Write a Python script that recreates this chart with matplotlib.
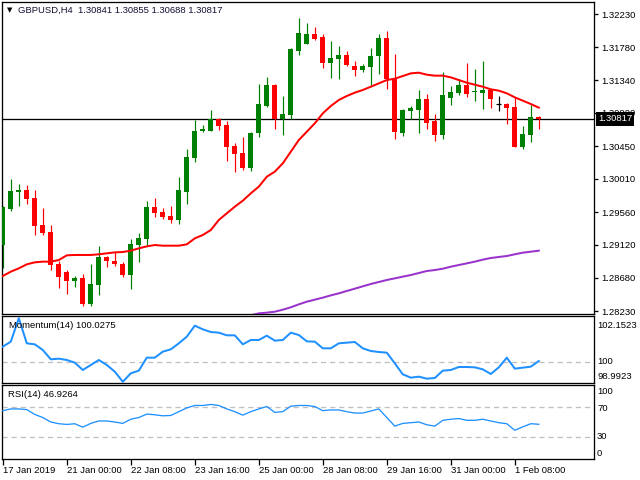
import matplotlib
matplotlib.use("Agg")
import matplotlib.pyplot as plt
import numpy as np

plt.rcParams['font.family'] = ['Liberation Sans', 'DejaVu Sans']

# ---------------- data ----------------
title_text = "GBPUSD,H4  1.30841 1.30855 1.30688 1.30817"

opens = [1.29119, 1.29600, 1.29833, 1.29860, 1.29752, 1.29389, 1.29294, 1.28863, 1.28756, 1.28639,
         1.28675, 1.28325, 1.28581, 1.28958, 1.28904, 1.28863, 1.28715, 1.29119, 1.29200, 1.29631,
         1.29564, 1.29510, 1.29456, 1.29837, 1.30295, 1.30654, 1.30659, 1.30812, 1.30731, 1.30452,
         1.30358, 1.30161, 1.30628, 1.30996, 1.31274, 1.30816, 1.30870, 1.31732, 1.31831, 1.31961,
         1.31920, 1.31575, 1.31624, 1.31678, 1.31530, 1.31480, 1.31521, 1.31664, 1.31907, 1.31359,
         1.30632, 1.30928, 1.30942, 1.31085, 1.30789, 1.30605, 1.31103, 1.31171, 1.31274, 1.31175,
         1.31171, 1.31211, 1.31014, 1.31018, 1.30978, 1.30443, 1.30605, 1.30841]
highs = [1.29644, 1.30008, 1.29941, 1.29923, 1.29855, 1.29618, 1.29389, 1.28899, 1.28782, 1.28706,
         1.28729, 1.28863, 1.29106, 1.28967, 1.29025, 1.28890, 1.29200, 1.29281, 1.29712, 1.29748,
         1.29618, 1.29644, 1.30035, 1.30412, 1.30803, 1.30735, 1.30937, 1.30825, 1.30785, 1.30488,
         1.30574, 1.30641, 1.31292, 1.31382, 1.31287, 1.31126, 1.31772, 1.32176, 1.32109, 1.32055,
         1.31961, 1.31866, 1.31799, 1.31732, 1.31597, 1.31557, 1.31772, 1.31961, 1.32001, 1.31691,
         1.30951, 1.30991, 1.31207, 1.31153, 1.30883, 1.31449, 1.31260, 1.31359, 1.31570, 1.31489,
         1.31597, 1.31225, 1.31126, 1.31032, 1.31112, 1.30722, 1.31005, 1.30855]
lows = [1.28814, 1.29582, 1.29649, 1.29667, 1.29254, 1.29254, 1.28782, 1.28545, 1.28464, 1.28558,
        1.28298, 1.28298, 1.28446, 1.28823, 1.28836, 1.28688, 1.28531, 1.28890, 1.29119, 1.29501,
        1.29469, 1.29420, 1.29406, 1.29676, 1.30241, 1.30641, 1.30659, 1.30668, 1.30255, 1.30107,
        1.30134, 1.30120, 1.30578, 1.30982, 1.30686, 1.30605, 1.30816, 1.31678, 1.31831, 1.31880,
        1.31507, 1.31368, 1.31355, 1.31530, 1.31400, 1.31453, 1.31274, 1.31422, 1.31220, 1.30551,
        1.30592, 1.30816, 1.30632, 1.30686, 1.30524, 1.30551, 1.31009, 1.31144, 1.31117, 1.31063,
        1.30955, 1.30969, 1.30928, 1.30753, 1.30443, 1.30417, 1.30511, 1.30688]
closes = [1.29635, 1.29846, 1.29860, 1.29743, 1.29380, 1.29285, 1.28850, 1.28693, 1.28639, 1.28679,
          1.28325, 1.28594, 1.28958, 1.28904, 1.28863, 1.28715, 1.29133, 1.29214, 1.29631, 1.29555,
          1.29496, 1.29456, 1.29860, 1.30304, 1.30654, 1.30681, 1.30816, 1.30726, 1.30443, 1.30349,
          1.30161, 1.30628, 1.31018, 1.31274, 1.30816, 1.30883, 1.31759, 1.31974, 1.31961, 1.31893,
          1.31575, 1.31638, 1.31678, 1.31543, 1.31480, 1.31530, 1.31664, 1.31907, 1.31355, 1.30645,
          1.30937, 1.30964, 1.31085, 1.30767, 1.30605, 1.31139, 1.31180, 1.31274, 1.31157, 1.31184,
          1.31211, 1.31090, 1.31014, 1.30969, 1.30443, 1.30614, 1.30843, 1.30817]

ma_fast = [1.28702, 1.28760, 1.28805, 1.28859, 1.28886, 1.28895, 1.28895, 1.28917, 1.28980, 1.28985,
           1.28985, 1.28985, 1.28994, 1.29007, 1.29020, 1.29025, 1.29043, 1.29074, 1.29101, 1.29119,
           1.29110, 1.29110, 1.29110, 1.29128, 1.29209, 1.29254, 1.29321, 1.29456, 1.29546, 1.29635,
           1.29716, 1.29815, 1.29905, 1.30039, 1.30107, 1.30219, 1.30376, 1.30533, 1.30645, 1.30758,
           1.30892, 1.30991, 1.31072, 1.31126, 1.31171, 1.31207, 1.31251, 1.31296, 1.31341, 1.31359,
           1.31395, 1.31431, 1.31440, 1.31413, 1.31400, 1.31400, 1.31377, 1.31341, 1.31305, 1.31278,
           1.31251, 1.31216, 1.31198, 1.31162, 1.31108, 1.31063, 1.31018, 1.30969]

ma_slow_first_bar = 31
ma_slow = [1.28172, 1.28199, 1.28208, 1.28221, 1.28248, 1.28280, 1.28320, 1.28356, 1.28383, 1.28410,
           1.28441, 1.28468, 1.28500, 1.28531, 1.28563, 1.28594, 1.28621, 1.28648, 1.28670, 1.28693,
           1.28715, 1.28742, 1.28769, 1.28782, 1.28800, 1.28827, 1.28850, 1.28872, 1.28895, 1.28922,
           1.28944, 1.28958, 1.28971, 1.28994, 1.29016, 1.29029, 1.29043]

momentum = [100.706, 100.942, 102.050, 100.863, 100.816, 100.549, 100.109, 100.140, 100.077, 99.952,
            99.606, 99.842, 100.077, 99.842, 99.527, 99.050, 99.449, 99.574, 100.187, 100.187,
            100.470, 100.580, 100.863, 101.178, 101.697, 101.524, 101.398, 101.366, 101.241, 101.241,
            100.816, 101.021, 101.021, 101.225, 100.989, 101.021, 101.366, 101.256, 100.958, 100.942,
            100.628, 100.628, 100.863, 100.895, 100.926, 100.628, 100.502, 100.455, 100.423, 99.920,
            99.401, 99.244, 99.291, 99.197, 99.228, 99.574, 99.606, 99.747, 99.747, 99.731,
            99.637, 99.417, 99.731, 100.187, 99.669, 99.716, 99.763, 100.0275]

rsi = [65.35, 67.67, 67.67, 66.74, 60.23, 56.05, 50.00, 47.67, 46.74, 47.67,
       43.02, 48.14, 51.40, 51.40, 50.00, 48.14, 53.72, 56.05, 60.70, 59.76,
       58.37, 58.83, 63.95, 69.07, 72.32, 72.32, 73.72, 72.32, 67.67, 63.95,
       59.30, 63.95, 67.67, 70.93, 63.02, 63.95, 71.39, 72.32, 72.32, 70.93,
       65.35, 66.28, 66.28, 63.95, 62.09, 62.09, 64.88, 67.67, 56.05, 44.42,
       48.14, 49.07, 50.00, 46.28, 44.42, 52.32, 53.72, 54.65, 52.32, 52.32,
       53.72, 51.40, 49.07, 47.67, 38.84, 43.49, 47.67, 46.9264]

momentum_label = "Momentum(14) 100.0275"
rsi_label = "RSI(14) 46.9264"

price_tick_labels = ["1.32230", "1.31780", "1.31340", "1.30900", "1.30450",
                     "1.30010", "1.29560", "1.29120", "1.28680", "1.28230"]
price_range = (1.28190, 1.32392)
last_price = 1.30817

momentum_range = (98.9923, 102.1523)
momentum_scale_labels = ["102.1523", "100", "98.9923"]
rsi_scale_labels = ["100", "70", "30", "0"]

time_labels = ["17 Jan 2019", "21 Jan 00:00", "22 Jan 08:00", "23 Jan 16:00", "25 Jan 00:00",
               "28 Jan 08:00", "29 Jan 16:00", "31 Jan 00:00", "1 Feb 08:00"]
bars_per_time_label = 8

# ---------------- figure ----------------
W, H = 640, 480
fig = plt.figure(figsize=(6.4, 4.8), dpi=100)
fig.patch.set_facecolor('white')


def rect(x0, y0, x1, y1):
    return [x0 / W, 1 - y1 / H, (x1 - x0) / W, (y1 - y0) / H]


ax = fig.add_axes(rect(2, 2, 594, 314))
axm = fig.add_axes(rect(2, 316, 594, 383))
axr = fig.add_axes(rect(2, 385, 594, 459))

PX = 0.72  # one pixel in points
FS = 6.8
GREEN = '#008000'
RED = '#FF0000'
BLUE = '#1E90FF'
PURPLE = '#9932CC'
GRID = '#C0C0C0'

n = len(opens)
x = np.arange(n)
o = np.array(opens)
h = np.array(highs)
l = np.array(lows)
c = np.array(closes)

for a in (ax, axm, axr):
    a.set_xlim(-0.1, 73.9)
    a.set_facecolor('white')
    for s in a.spines.values():
        s.set_linewidth(1.0 * PX * 1.3)
        s.set_color('black')
    a.set_xticks([])
    a.tick_params(axis='x', which='both', length=0)

# ---------- main panel ----------
ax.set_ylim(*price_range)
ax.axhline(last_price, color='black', lw=PX * 1.3, zorder=1)

up = c > o
down = c < o
doji = c == o
wick_colors = np.where(up, GREEN, np.where(down, RED, 'black'))
ax.vlines(x, l, h, colors=wick_colors, lw=PX * 1.2, zorder=2)
px_price = (price_range[1] - price_range[0]) / 312.0
body_h = np.maximum(np.abs(c - o), px_price)
body_b = np.minimum(o, c)
mask = ~doji
ax.bar(x[mask], body_h[mask], bottom=body_b[mask], width=0.62,
       color=[GREEN if u else RED for u in up[mask]], linewidth=0, zorder=3)
ax.hlines(c[doji], x[doji] - 0.31, x[doji] + 0.31, colors='black', lw=PX * 1.2, zorder=3)

ax.plot(x, ma_fast, color=RED, lw=2 * PX, zorder=4)
xs = np.arange(ma_slow_first_bar, ma_slow_first_bar + len(ma_slow))
ax.plot(xs, ma_slow, color=PURPLE, lw=2 * PX, zorder=4)

ax.yaxis.tick_right()
ax.set_yticks([float(t) for t in price_tick_labels])
ax.set_yticklabels(price_tick_labels)
ax.tick_params(axis='y', direction='out', length=3 * PX * 1.39, width=PX * 1.3,
               pad=2.2, labelsize=FS, colors='black')

ax.annotate(f"{last_price:.5f}", xy=(1.0, last_price), xycoords=('axes fraction', 'data'),
            xytext=(3.0, 0), textcoords='offset points', ha='left', va='center',
            fontsize=FS, color='white', zorder=10, annotation_clip=False,
            bbox=dict(boxstyle='square,pad=0.22', fc='black', ec='none'))

fig.text(7 / W, 1 - 10.5 / H, "\u25BC", fontsize=5, family='DejaVu Sans',
         ha='left', va='center', color='black')
fig.text(18 / W, 1 - 10.5 / H, title_text, fontsize=FS, ha='left', va='center',
         color='#101030')

# ---------- momentum ----------
axm.set_ylim(*momentum_range)
axm.axhline(100, color=GRID, lw=PX * 1.3, ls=(0, (4, 3)), zorder=1)
axm.plot(x, momentum, color=BLUE, lw=2 * PX, zorder=3)
axm.set_yticks([])
axm.text(7 / 592, 1 - 10 / 67, momentum_label, transform=axm.transAxes,
         fontsize=FS, ha='left', va='center', color='black')
mom_offsets = [-7.2, 0.0, 4.5]
for lab, dy in zip(momentum_scale_labels, mom_offsets):
    axm.annotate(lab, xy=(1.0, float(lab)), xycoords=('axes fraction', 'data'),
                 xytext=(2.2, dy), textcoords='offset points', ha='left', va='center',
                 fontsize=FS, color='black', annotation_clip=False)

# ---------- RSI ----------
axr.set_ylim(0, 100)
for lvl in (70, 30):
    axr.axhline(lvl, color=GRID, lw=PX * 1.3, ls=(0, (4, 3)), zorder=1)
axr.plot(x, rsi, color=BLUE, lw=PX * 1.3, zorder=3)
axr.set_yticks([])
axr.text(6 / 592, 1 - 9.5 / 74, rsi_label, transform=axr.transAxes,
         fontsize=FS, ha='left', va='center', color='black')
rsi_offsets = [-5.0, -1.0, 0.0, 4.3]
for lab, dy in zip(rsi_scale_labels, rsi_offsets):
    axr.annotate(lab, xy=(1.0, float(lab)), xycoords=('axes fraction', 'data'),
                 xytext=(2.2, dy), textcoords='offset points', ha='left', va='center',
                 fontsize=FS, color='black', annotation_clip=False)

tick_bars = np.arange(len(time_labels)) * bars_per_time_label
axr.set_xticks(tick_bars)
axr.set_xticklabels(time_labels, ha='left')
axr.tick_params(axis='x', direction='out', length=4 * PX * 1.39, width=PX * 1.3,
                pad=1.0, labelsize=FS, colors='black')

fig.savefig("out.png", dpi=100, facecolor='white')
